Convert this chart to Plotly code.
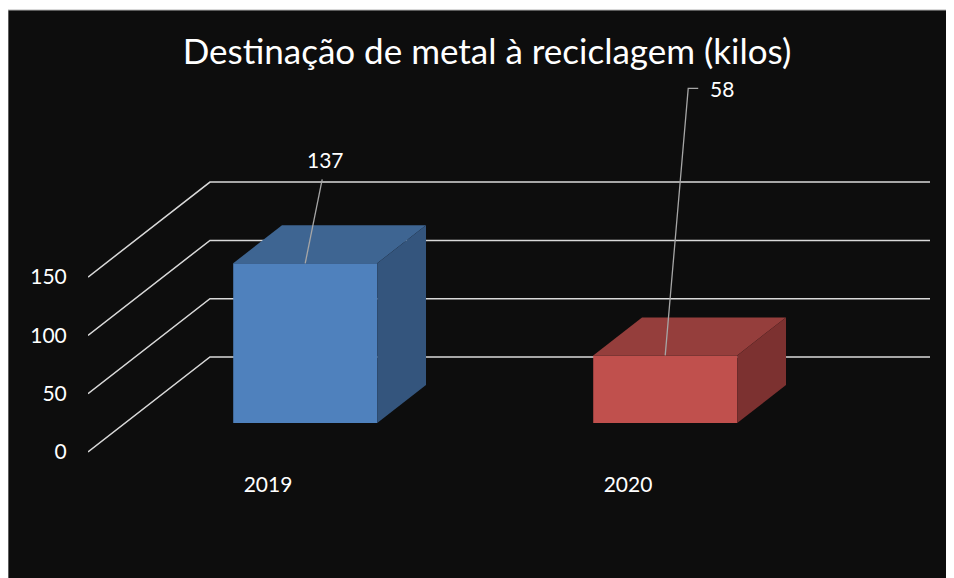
import plotly.graph_objects as go

# ── data ─────────────────────────────────────────────
years = ["2019", "2020"]
kilos = [137, 58]
y_ticks = [0, 50, 100, 150]

TITLE = "Destinação de metal à reciclagem (kilos)"

# ── look ─────────────────────────────────────────────
BG = "#0d0d0d"
GRID = "#d9d9d9"
LEADER = "#a6a6a6"
FONT = "Lato, 'Open Sans', sans-serif"
FRONT = ["#4f81bd", "#c0504d"]
TOP = ["#3e6592", "#953e3c"]
SIDE = ["#34557d", "#7c3130"]

W, H = 962, 578
M_L, M_R, M_T, M_B = 80, 40, 52, 130
ZERO_PX = 444          # figure y pixel of the front zero line
PX_X = 360.1           # px per category unit
PX_Y = 1.166           # px per kilo

# oblique "3D" projection: full depth shift
DEPTH_X = 122 / PX_X
DEPTH_Y = 95 / PX_Y
D_FRONT, D_BACK = 0.305, 0.705   # bar sits between these depth fractions
HALF_W = 0.2

plot_h = H - M_T - M_B
y_bottom = -(plot_h - (ZERO_PX - M_T)) / PX_Y
y_top = (ZERO_PX - M_T) / PX_Y
x_left = -0.5
x_right = 1.5 + DEPTH_X

fig = go.Figure()

# back-wall gridlines (drawn under bars)
shapes = []
for g in y_ticks:
    shapes.append(dict(
        type="path", xref="x", yref="y", layer="below",
        path=f"M {x_left},{g} L {x_left + DEPTH_X},{g + DEPTH_Y} L {x_right},{g + DEPTH_Y}",
        line=dict(color=GRID, width=1.5),
    ))

# chart panel edge (thin white strip on top + grey border)
px2paper_x = lambda p: (p - M_L) / (W - M_L - M_R)
px2paper_y = lambda p: (H - M_B - p) / plot_h
shapes.insert(0, dict(
    type="rect", xref="paper", yref="paper", layer="below",
    x0=px2paper_x(-2), x1=px2paper_x(W + 20), y0=px2paper_y(2), y1=px2paper_y(-5),
    fillcolor="white", line_width=0,
))
shapes.insert(1, dict(
    type="rect", xref="paper", yref="paper", layer="below",
    x0=px2paper_x(0), x1=px2paper_x(W + 20), y0=px2paper_y(2), y1=px2paper_y(H + 20),
    fillcolor="rgba(0,0,0,0)", line=dict(color="#b0b0b0", width=1),
))

dx0, dy0 = D_FRONT * DEPTH_X, D_FRONT * DEPTH_Y
dx1, dy1 = D_BACK * DEPTH_X, D_BACK * DEPTH_Y

# front faces
fig.add_trace(go.Bar(
    x=[i + dx0 for i in range(len(years))], y=kilos, base=dy0,
    width=2 * HALF_W, marker=dict(color=FRONT, line_width=0),
    hoverinfo="skip", showlegend=False,
))

# top and side faces
for i, v in enumerate(kilos):
    l, r = i - HALF_W, i + HALF_W
    fig.add_trace(go.Scatter(
        x=[l + dx0, r + dx0, r + dx1, l + dx1, l + dx0],
        y=[dy0 + v, dy0 + v, dy1 + v, dy1 + v, dy0 + v],
        fill="toself", fillcolor=TOP[i], mode="lines", line=dict(width=0),
        hoverinfo="skip", showlegend=False,
    ))
    fig.add_trace(go.Scatter(
        x=[r + dx0, r + dx0, r + dx1, r + dx1, r + dx0],
        y=[dy0, dy0 + v, dy1 + v, dy1, dy0],
        fill="toself", fillcolor=SIDE[i], mode="lines", line=dict(width=0),
        hoverinfo="skip", showlegend=False,
    ))

# data labels with leader lines (offsets in px)
label_pos = [(20, 104), (43, 267)]
leader_pts = [[(17, 84)], [(23, 267), (33, 267)]]
for i, v in enumerate(kilos):
    ax, ay = i + dx0, dy0 + v
    xs, ys = [ax], [ay]
    for ox, oy in leader_pts[i]:
        xs.append(ax + ox / PX_X)
        ys.append(ay + oy / PX_Y)
    fig.add_trace(go.Scatter(
        x=xs, y=ys, mode="lines", line=dict(color=LEADER, width=1.3),
        hoverinfo="skip", showlegend=False,
    ))
    ox, oy = label_pos[i]
    fig.add_annotation(
        x=ax + ox / PX_X, y=ay + oy / PX_Y, text=str(v), showarrow=False,
        xanchor="center" if i == 0 else "left", yanchor="middle",
        font=dict(family=FONT, size=21, color="white"),
    )

fig.update_layout(
    width=W, height=H,
    margin=dict(l=M_L, r=M_R, t=M_T, b=M_B),
    paper_bgcolor=BG, plot_bgcolor="rgba(0,0,0,0)",
    font=dict(family=FONT, size=21, color="white"),
    title=dict(text=TITLE, x=479 / W, xanchor="center", xref="container",
               y=1 - 44 / H, yanchor="middle", yref="container",
               font=dict(family=FONT, size=35, color="white")),
    shapes=shapes,
    xaxis=dict(range=[x_left, x_right], tickvals=list(range(len(years))), ticktext=years,
               showgrid=False, zeroline=False, showline=False,
               ticks="outside", ticklen=10, tickcolor="rgba(0,0,0,0)"),
    yaxis=dict(range=[y_bottom, y_top], tickvals=y_ticks,
               showgrid=False, zeroline=False, showline=False,
               ticks="outside", ticklen=16, tickcolor="rgba(0,0,0,0)"),
)

fig.write_html("out.html", default_width=f"{W}px", default_height=f"{H}px")
